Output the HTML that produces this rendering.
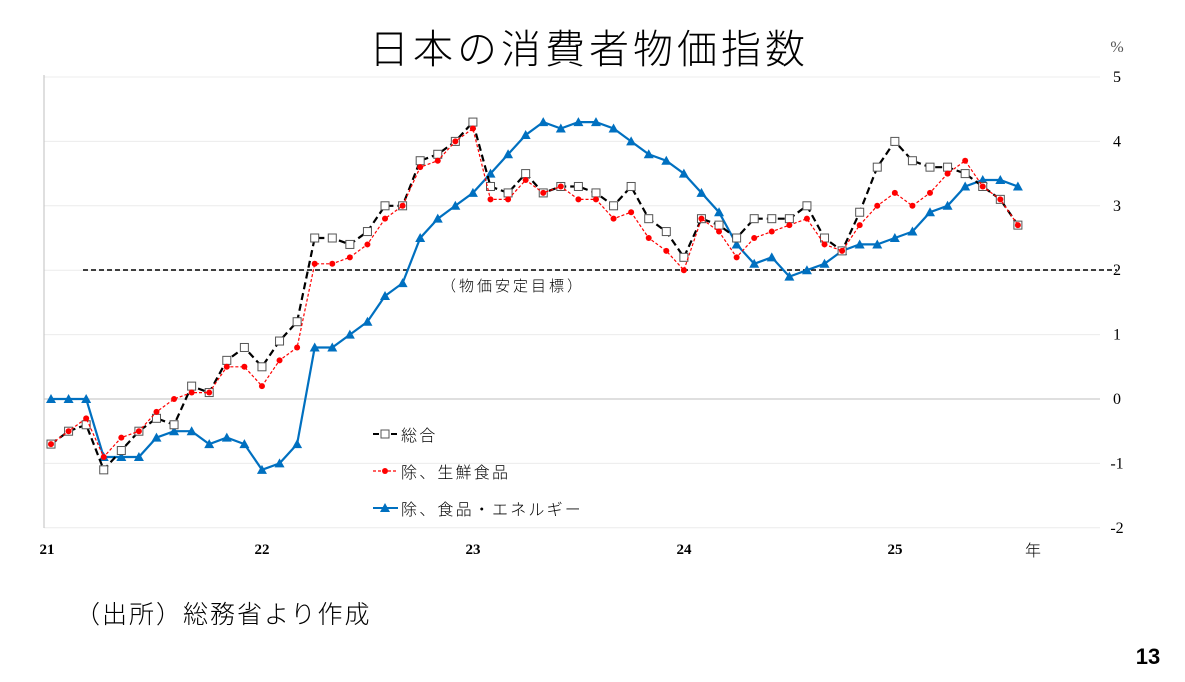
<!DOCTYPE html>
<html><head><meta charset="utf-8"><style>
body{margin:0;background:#fff;width:1185px;height:682px;overflow:hidden;font-family:"Liberation Sans","Noto Sans CJK JP",sans-serif}
svg{position:absolute;left:0;top:0}
</style></head><body>
<svg id="s" width="1185" height="682" xmlns="http://www.w3.org/2000/svg" font-family="Liberation Sans, Noto Sans CJK JP, sans-serif">
<text x="589" y="63" font-size="40" text-anchor="middle" letter-spacing="4" font-family="Noto Sans CJK JP, sans-serif" font-weight="300">日本の消費者物価指数</text>
<text x="1117" y="52" font-size="16" text-anchor="middle" fill="#555" font-family="Liberation Serif, serif">%</text>
<g id="grid"></g>
<line x1="44" y1="75" x2="44" y2="528" stroke="#bfbfbf" stroke-width="1"/>
<line x1="83" y1="270" x2="1117" y2="270" stroke="#000" stroke-width="1.6" stroke-dasharray="5,3"/>
<text x="441" y="291" font-size="15" letter-spacing="3" font-family="Noto Sans CJK JP, sans-serif" font-weight="300">（物価安定目標）</text>
<g id="series"></g>
<g font-size="16" letter-spacing="2.2" font-family="Noto Sans CJK JP, sans-serif" font-weight="300">
<line x1="373" y1="434" x2="398" y2="434" stroke="#000" stroke-width="2" stroke-dasharray="6,3"/>
<rect x="381" y="430" width="8" height="8" fill="#fff" stroke="#555"/>
<text x="401" y="441">総合</text>
<line x1="373" y1="471" x2="398" y2="471" stroke="#f00" stroke-width="1.2" stroke-dasharray="3,2"/>
<circle cx="385" cy="471" r="3" fill="#f00"/>
<text x="401" y="478">除、生鮮食品</text>
<line x1="373" y1="508" x2="398" y2="508" stroke="#0070c0" stroke-width="2"/>
<polygon points="385,503 380,512 390,512" fill="#0070c0"/>
<text x="401" y="515">除、食品・エネルギー</text>
</g>
<g font-size="15" font-weight="bold" font-family="Liberation Serif, serif">
<text x="47" y="554" text-anchor="middle">21</text>
<text x="262" y="554" text-anchor="middle">22</text>
<text x="473" y="554" text-anchor="middle">23</text>
<text x="684" y="554" text-anchor="middle">24</text>
<text x="895" y="554" text-anchor="middle">25</text>
</g>
<text x="1033" y="556" font-size="16" text-anchor="middle" font-family="Noto Sans CJK JP, sans-serif" font-weight="300">年</text>
<text x="75" y="623" font-size="25" letter-spacing="2" font-family="Noto Sans CJK JP, sans-serif" font-weight="300">（出所）総務省より作成</text>
<text x="1148" y="664" font-size="22" font-weight="bold" text-anchor="middle">13</text>
</svg>
<script>
const NS="http://www.w3.org/2000/svg";
function el(t,a,p){const e=document.createElementNS(NS,t);for(const k in a)e.setAttribute(k,a[k]);p.appendChild(e);return e;}
const X=i=>51+17.58*i, Y=v=>399-64.4*v;
const g=document.getElementById('grid');
for(let v=-2;v<=5;v++){
  el('line',{x1:44,x2:1100,y1:Y(v),y2:Y(v),stroke:v===0?'#bfbfbf':'#ececec','stroke-width':1},g);
  const t=el('text',{x:1117,y:Y(v)+5,'font-size':16,'text-anchor':'middle','font-family':'Liberation Serif, serif'},g);t.textContent=v;
}
const A=[-0.7,-0.5,-0.4,-1.1,-0.8,-0.5,-0.3,-0.4,0.2,0.1,0.6,0.8,0.5,0.9,1.2,2.5,2.5,2.4,2.6,3.0,3.0,3.7,3.8,4.0,4.3,3.3,3.2,3.5,3.2,3.3,3.3,3.2,3.0,3.3,2.8,2.6,2.2,2.8,2.7,2.5,2.8,2.8,2.8,3.0,2.5,2.3,2.9,3.6,4.0,3.7,3.6,3.6,3.5,3.3,3.1,2.7];
const B=[-0.7,-0.5,-0.3,-0.9,-0.6,-0.5,-0.2,0.0,0.1,0.1,0.5,0.5,0.2,0.6,0.8,2.1,2.1,2.2,2.4,2.8,3.0,3.6,3.7,4.0,4.2,3.1,3.1,3.4,3.2,3.3,3.1,3.1,2.8,2.9,2.5,2.3,2.0,2.8,2.6,2.2,2.5,2.6,2.7,2.8,2.4,2.3,2.7,3.0,3.2,3.0,3.2,3.5,3.7,3.3,3.1,2.7];
const C=[0,0,0,-0.9,-0.9,-0.9,-0.6,-0.5,-0.5,-0.7,-0.6,-0.7,-1.1,-1.0,-0.7,0.8,0.8,1.0,1.2,1.6,1.8,2.5,2.8,3.0,3.2,3.5,3.8,4.1,4.3,4.2,4.3,4.3,4.2,4.0,3.8,3.7,3.5,3.2,2.9,2.4,2.1,2.2,1.9,2.0,2.1,2.3,2.4,2.4,2.5,2.6,2.9,3.0,3.3,3.4,3.4,3.3];
const s=document.getElementById('series');
const pts=d=>d.map((v,i)=>X(i).toFixed(1)+','+Y(v).toFixed(1)).join(' ');
el('polyline',{points:pts(C),fill:'none',stroke:'#0070c0','stroke-width':2.2},s);
C.forEach((v,i)=>{const x=X(i),y=Y(v);el('polygon',{points:`${x},${y-5} ${x-5},${y+4} ${x+5},${y+4}`,fill:'#0070c0'},s);});
el('polyline',{points:pts(A),fill:'none',stroke:'#000','stroke-width':2.2,'stroke-dasharray':'7,4'},s);
A.forEach((v,i)=>{el('rect',{x:X(i)-4,y:Y(v)-4,width:8,height:8,fill:'#fff',stroke:'#555','stroke-width':1},s);});
el('polyline',{points:pts(B),fill:'none',stroke:'#f00','stroke-width':1.2,'stroke-dasharray':'3,2'},s);
B.forEach((v,i)=>{el('circle',{cx:X(i),cy:Y(v),r:3,fill:'#f00'},s);});
</script>
</body></html>
